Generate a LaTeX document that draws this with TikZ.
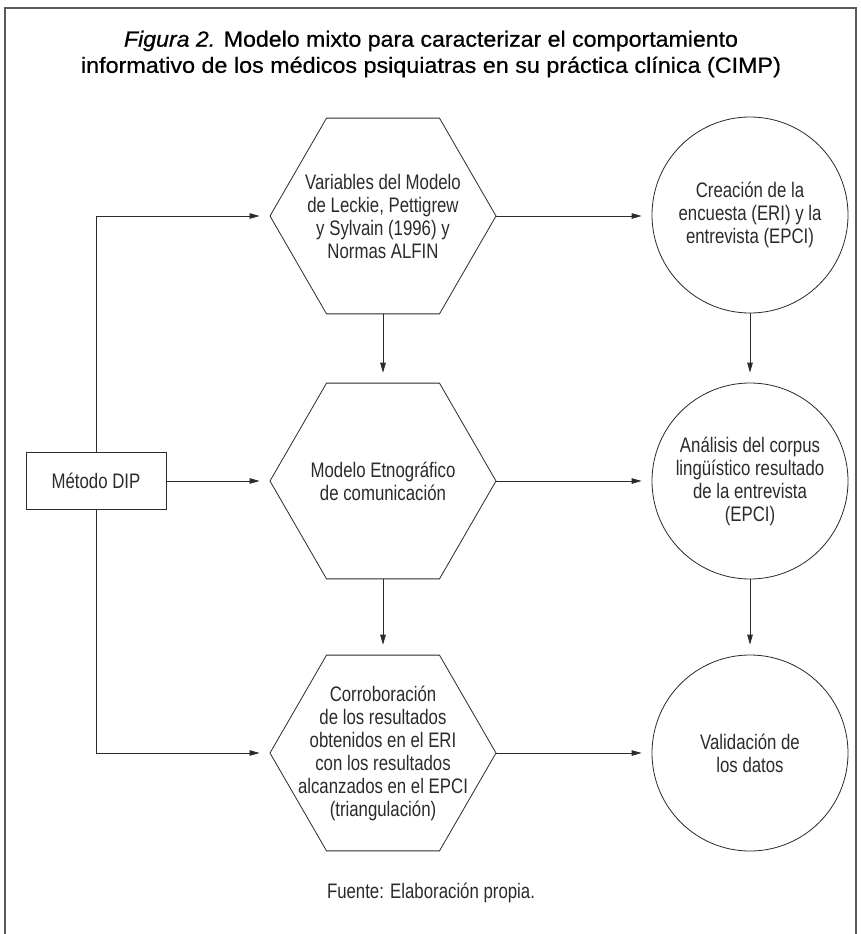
\documentclass[tikz,border=0pt]{standalone}
\usepackage{fontspec}
\usepackage{graphicx}
\setmainfont{Liberation Sans}
\newfontfamily\bodyfont{Liberation Sans}[FakeStretch=0.80]
\newfontfamily\titlefont{Liberation Sans}[FakeBold=0.6]
\usetikzlibrary{shapes.geometric,arrows.meta}
\definecolor{ink}{HTML}{2B2B2B}
\definecolor{framegray}{HTML}{5A5A5A}
\begin{document}
\begin{tikzpicture}[x=1pt,y=-1pt,
  every node/.style={font=\bodyfont\fontsize{21}{23}\selectfont, text=ink},
  hexbox/.style={draw=ink, line width=0.8pt, regular polygon, regular polygon sides=6, minimum size=226pt, inner sep=0pt},
  roundbox/.style={draw=ink, line width=0.8pt, circle, minimum size=196pt, inner sep=0pt, align=center},
  labeltext/.style={align=center, inner sep=0pt},
  rectbox/.style={draw=ink, line width=0.8pt, rectangle, minimum width=140pt, minimum height=57pt, inner sep=0pt},
  flow/.style={draw=ink, line width=0.8pt, -{Triangle[length=10pt,width=5.5pt]}, shorten >=10pt},
  titletext/.style={font=\titlefont\fontsize{22}{27}\selectfont, text=black, inner sep=0pt},
]
\useasboundingbox (0,0) rectangle (860,934);
\fill[white] (0,0) rectangle (860,934);
\draw[framegray, line width=1.4pt] (5,940) -- (5,8) -- (856,8) -- (856,940);

\node[titletext] (title1) at (431,41) {\resizebox{614pt}{\height}{\textit{Figura 2.} Modelo mixto para caracterizar el comportamiento}};
\node[titletext] (title2) at (431,67) {\resizebox{700pt}{\height}{informativo de los médicos psiquiatras en su práctica clínica (CIMP)}};

% hexagons
\node[hexbox] (h1) at (383,216) {};
\node[hexbox] (h2) at (383,481) {};
\node[hexbox] (h3) at (383,753) {};
\node[labeltext] (h1t) at (383,216) {Variables del Modelo\\de Leckie, Pettigrew\\y Sylvain (1996) y\\Normas ALFIN};
\node[labeltext] (h2t) at (383,481) {Modelo Etnográfico\\de comunicación};
\node[labeltext] (h3t) at (383,753) {Corroboración\\de los resultados\\obtenidos en el ERI\\con los resultados\\alcanzados en el EPCI\\(triangulación)};

% circles
\node[roundbox] (c1) at (750,215) {Creación de la\\encuesta (ERI) y la\\entrevista (EPCI)};
\node[roundbox] (c2) at (750,481) {Análisis del corpus\\lingüístico resultado\\de la entrevista\\(EPCI)};
\node[roundbox] (c3) at (750,753) {Validación de\\los datos};

% method box
\node[rectbox] (m) at (96,481) {Método DIP};

\coordinate (topcorner) at (96,216);
\coordinate (botcorner) at (96,753);

\draw[flow] (m.north) -- (topcorner) -- (h1.corner 3);
\draw[flow] (m.south) -- (botcorner) -- (h3.corner 3);
\draw[flow] (m.east) -- (h2.corner 3);

\draw[flow] (h1.side 4) -- (h2.side 1);
\draw[flow] (h2.side 4) -- (h3.side 1);

\draw[flow] (h1.corner 6) -- (c1.west |- h1.corner 6);
\draw[flow] (h2.corner 6) -- (c2.west);
\draw[flow] (h3.corner 6) -- (c3.west);

\draw[flow] (c1.south) -- (c2.north);
\draw[flow] (c2.south) -- (c3.north);

\node (source) at (431,893) {Fuente: Elaboración propia.};
\end{tikzpicture}
\end{document}
